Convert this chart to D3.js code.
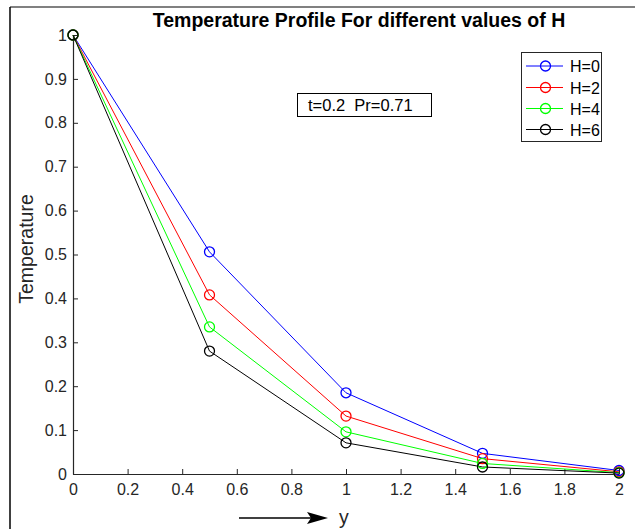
<!DOCTYPE html>
<html><head><meta charset="utf-8">
<script src="https://cdn.jsdelivr.net/npm/d3@7"></script>
<style>body{margin:0;background:#fff}svg{display:block}text{font-family:"Liberation Sans",Arial,sans-serif}</style>
</head><body>
<script>
const xValues = [0, 0.5, 1, 1.5, 2];
const seriesNames = ["H=0", "H=2", "H=4", "H=6"];
const seriesColors = ["#0000ff", "#ff0000", "#00ff00", "#000000"];
const h0 = [1, 0.506, 0.185, 0.047, 0.008];
const h2 = [1, 0.408, 0.132, 0.035, 0.005];
const h4 = [1, 0.335, 0.096, 0.024, 0.003];
const h6 = [1, 0.280, 0.071, 0.016, 0.002];
const xTicks = [0, 0.2, 0.4, 0.6, 0.8, 1, 1.2, 1.4, 1.6, 1.8, 2];
const yTicks = [0, 0.1, 0.2, 0.3, 0.4, 0.5, 0.6, 0.7, 0.8, 0.9, 1];
const series = [h0, h2, h4, h6];

const W = 635, H = 529;
const svg = d3.select("body").append("svg").attr("width", W).attr("height", H);

// frame
svg.append("line").attr("x1", 10).attr("x2", W).attr("y1", 7).attr("y2", 7).attr("stroke", "#808080").attr("stroke-width", 2);
svg.append("line").attr("x1", 10).attr("x2", 10).attr("y1", 7).attr("y2", H).attr("stroke", "#000").attr("stroke-width", 1.5);

const x = d3.scaleLinear().domain([0, 2]).range([73, 619]);
const y = d3.scaleLinear().domain([0, 1]).range([474, 35]);
const axisColor = "#262626";

const xAxis = svg.append("g").attr("transform", "translate(0,474)")
  .call(d3.axisBottom(x).tickValues(xTicks).tickSizeInner(-5).tickSizeOuter(0).tickPadding(10).tickFormat(d3.format("")));
const yAxis = svg.append("g").attr("transform", "translate(73,0)")
  .call(d3.axisLeft(y).tickValues(yTicks).tickSizeInner(-5).tickSizeOuter(0).tickPadding(6).tickFormat(d3.format("")));
[xAxis, yAxis].forEach(a => {
  a.select(".domain").attr("stroke", axisColor).attr("stroke-width", 1.2);
  a.selectAll(".tick line").attr("stroke", axisColor);
  a.selectAll(".tick text").attr("fill", axisColor).style("font-size", "16px").style("font-family", '"Liberation Sans",Arial,sans-serif');
});

// lines and markers
const line = d3.line().x((d, i) => x(xValues[i])).y(d => y(d));
series.forEach((s, k) => {
  svg.append("path").datum(s).attr("d", line).attr("fill", "none").attr("stroke", seriesColors[k]).attr("stroke-width", 1);
});
series.forEach((s, k) => {
  svg.append("g").selectAll("circle").data(s).join("circle")
    .attr("cx", (d, i) => x(xValues[i])).attr("cy", d => y(d)).attr("r", 5)
    .attr("fill", "none").attr("stroke", seriesColors[k]).attr("stroke-width", 1.3);
});

// title
svg.append("text").attr("x", 359).attr("y", 27).attr("text-anchor", "middle")
  .style("font-size", "19.5px").style("font-weight", "bold").attr("fill", "#000")
  .text("Temperature Profile For different values of H");

// y label
svg.append("text").attr("transform", "translate(33,249) rotate(-90)").attr("text-anchor", "middle")
  .style("font-size", "19.5px").attr("fill", axisColor).text("Temperature");

// arrow + y
svg.append("line").attr("x1", 239).attr("x2", 312).attr("y1", 518).attr("y2", 518).attr("stroke", "#000").attr("stroke-width", 1.3);
svg.append("path").attr("d", "M307,512 L328,518 L307,524 L311,518 Z").attr("fill", "#000");
svg.append("text").attr("x", 339).attr("y", 524).style("font-size", "19.5px").attr("fill", axisColor).text("y");

// annotation
svg.append("rect").attr("x", 297.5).attr("y", 93.5).attr("width", 134).attr("height", 23).attr("fill", "#fff").attr("stroke", "#000");
svg.append("text").attr("x", 308).attr("y", 111).style("font-size", "16.5px").attr("fill", "#000").attr("xml:space", "preserve").style("white-space", "pre").text("t=0.2  Pr=0.71");

// legend
const lg = svg.append("g");
lg.append("rect").attr("x", 521.5).attr("y", 52.5).attr("width", 80).attr("height", 89).attr("fill", "#fff").attr("stroke", "#262626");
const ly = [66, 87.5, 108.5, 129.5];
seriesNames.forEach((n, k) => {
  lg.append("line").attr("x1", 526).attr("x2", 563).attr("y1", ly[k]).attr("y2", ly[k]).attr("stroke", seriesColors[k]).attr("stroke-width", 1);
  lg.append("circle").attr("cx", 545.5).attr("cy", ly[k]).attr("r", 5).attr("fill", "none").attr("stroke", seriesColors[k]).attr("stroke-width", 1.3);
  lg.append("text").attr("x", 570).attr("y", ly[k] + 6).style("font-size", "16px").attr("fill", "#000").text(n);
});
</script>
</body></html>
